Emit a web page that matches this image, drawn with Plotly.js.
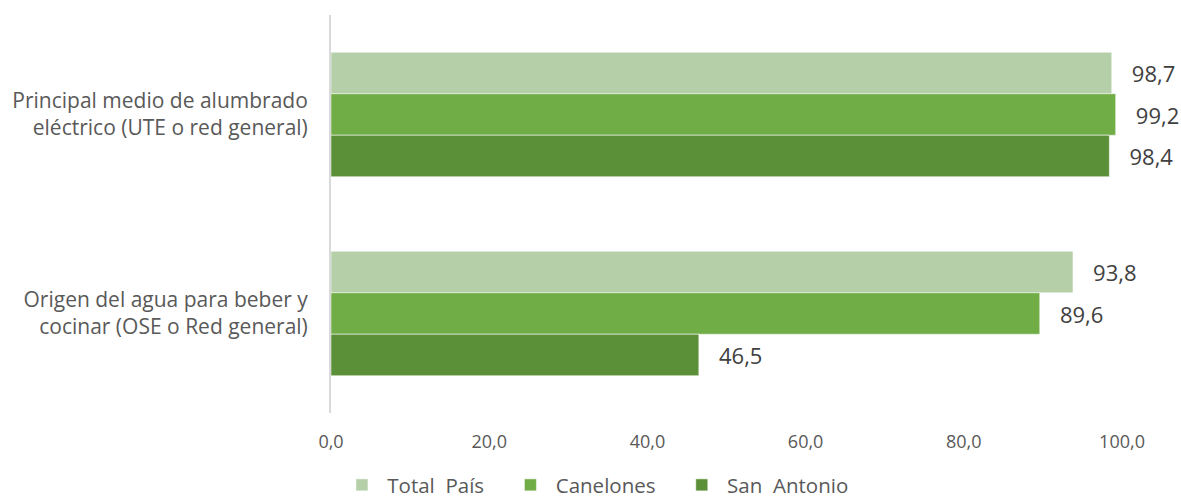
<!DOCTYPE html>
<html>
<head>
<meta charset="utf-8">
<script src="https://cdn.plot.ly/plotly-3.0.1.min.js"></script>
<style>html,body{margin:0;padding:0;background:#fff;}#chart{width:1181px;height:498px;}</style>
</head>
<body>
<div id="chart"></div>
<script>
const categories = [
  "Principal medio de alumbrado<br>eléctrico (UTE o red general)",
  "Origen del agua para beber y<br>cocinar (OSE o Red general)"
];
const seriesNames = ["Total  País", "Canelones", "San  Antonio"];
const totalPais = [98.7, 93.8];
const canelones = [99.2, 89.6];
const sanAntonio = [98.4, 46.5];
const colors = ["#B5CFA8", "#70AD47", "#5B8F38"];
const tickVals = [0, 20, 40, 60, 80, 100];

const seriesValues = [totalPais, canelones, sanAntonio];
const traces = seriesValues.map((vals, i) => ({
  type: "bar",
  orientation: "h",
  name: "\u00a0" + seriesNames[i] + (i < 2 ? "\u00a0\u00a0\u00a0\u00a0" : ""),
  y: categories,
  x: vals,
  marker: {color: colors[i], line: {color: "rgba(255,255,255,0.5)", width: 1}},
  texttemplate: "\u00a0\u00a0\u00a0%{x:.1f}",
  textposition: "outside",
  textfont: {family: "Open Sans", size: 22, color: "#404040"},
  cliponaxis: false,
  hoverinfo: "skip"
}));

const layout = {
  width: 1181,
  height: 498,
  margin: {l: 331, r: 59, t: 15, b: 85, autoexpand: false},
  separators: ",.",
  barmode: "group",
  bargap: 0.375,
  bargroupgap: 0,
  paper_bgcolor: "#ffffff",
  plot_bgcolor: "#ffffff",
  font: {family: "Open Sans", color: "#595959"},
  xaxis: {
    range: [0, 100],
    tickvals: tickVals,
    tickformat: ".1f",
    tickangle: 0,
    showgrid: false,
    zeroline: false,
    showline: false,
    ticks: "",
    automargin: false,
    tickfont: {family: "Open Sans", size: 18, color: "#595959"},
    ticklabelstandoff: 16
  },
  yaxis: {
    autorange: "reversed",
    showgrid: false,
    zeroline: false,
    showline: true,
    linecolor: "#D9D9D9",
    linewidth: 2,
    ticks: "",
    automargin: false,
    tickfont: {family: "Open Sans", size: 21, color: "#595959"},
    ticklabelstandoff: 17
  },
  showlegend: true,
  legend: {
    orientation: "h",
    xref: "paper",
    x: 0.3375,
    xanchor: "center",
    y: -0.181,
    yanchor: "middle",
    font: {family: "Open Sans", size: 20.5, color: "#595959"},
    itemwidth: 30,
    tracegroupgap: 0
  }
};

Plotly.newPlot("chart", traces, layout, {displayModeBar: false, staticPlot: true});
</script>
</body>
</html>
